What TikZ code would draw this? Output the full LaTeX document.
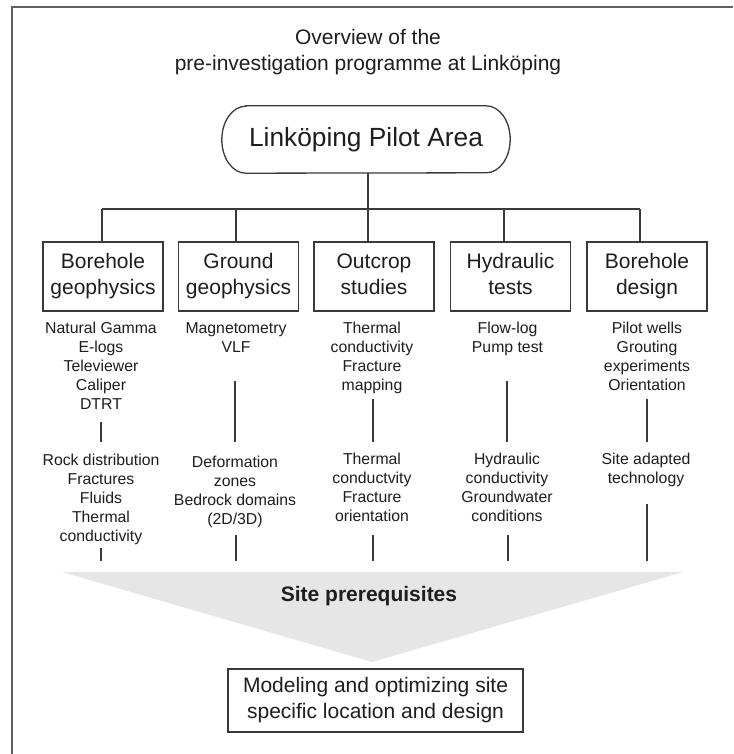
\documentclass[tikz,border=0pt]{standalone}
\usepackage{fontspec}
\setmainfont{Liberation Sans}
\definecolor{txt}{HTML}{1E1E1E}
\definecolor{lin}{HTML}{3A3A3A}
\definecolor{frm}{HTML}{606060}
\definecolor{tri}{HTML}{E6E6E6}
\newcommand{\lnst}{\strut}
\begin{document}
\begin{tikzpicture}[x=1pt,y=-1pt,
  big/.style={font=\fontsize{21}{26}\selectfont, text=txt, align=center, inner sep=0pt},
  small/.style={font=\fontsize{15.8}{19}\selectfont, text=txt, align=center, inner sep=0pt},
  catbox/.style={big, draw=lin, line width=1.3pt, minimum width=120pt, minimum height=69pt},
  conn/.style={draw=lin, line width=1.2pt}]
\useasboundingbox (0,0) rectangle (733,754);
\fill[white] (0,0) rectangle (733,754);
% frame
\draw[frm, line width=1.6pt] (12,754) -- (12,7) -- (733,7);
% title
\node[big] (title) at (368,52) {\strut Overview of the\\\strut pre-investigation programme at Linköping};
% pilot area
\node[inner sep=0pt, minimum width=288pt, minimum height=67pt, font=\fontsize{26.3}{30}\selectfont, text=txt] (pilot) at (366,139.5) {Linköping Pilot Area};
\draw[lin, line width=1.3pt] ([xshift=24pt]pilot.north west) -- ([xshift=-24pt]pilot.north east)
  arc[start angle=90, end angle=-90, x radius=24pt, y radius=33.5pt]
  -- ([xshift=24pt]pilot.south west)
  arc[start angle=270, end angle=90, x radius=24pt, y radius=33.5pt] -- cycle;
% category boxes
\node[catbox] (b1) at (103,276.5) {\strut Borehole\\\strut geophysics};
\node[catbox] (b2) at (238.5,276.5) {\strut Ground\\\strut geophysics};
\node[catbox] (b3) at (374,276.5) {\strut Outcrop\\\strut studies};
\node[catbox] (b4) at (510.5,276.5) {\strut Hydraulic\\\strut tests};
\node[catbox] (b5) at (647,276.5) {\strut Borehole\\\strut design};
% tree connectors
\coordinate (bar) at (368,209);
\coordinate (j1) at (102,209);
\coordinate (j2) at (236,209);
\coordinate (j3) at (368,209);
\coordinate (j4) at (504,209);
\coordinate (j5) at (640,209);
\draw[conn] (pilot.south -| bar) -- (bar);
\draw[conn] (j1) -- (j5);
\draw[conn] (j1) -- (j1 |- b1.north);
\draw[conn] (j2) -- (j2 |- b2.north);
\draw[conn] (j3) -- (j3 |- b3.north);
\draw[conn] (j4) -- (j4 |- b4.north);
\draw[conn] (j5) -- (j5 |- b5.north);
% methods
\node[small] (m1) at (101,368) {\lnst Natural Gamma\\\lnst E-logs\\\lnst Televiewer\\\lnst Caliper\\\lnst DTRT};
\node[small] (m2) at (236,339.5) {\lnst Magnetometry\\\lnst VLF};
\node[small] (m3) at (372,358.5) {\lnst Thermal\\\lnst conductivity\\\lnst Fracture\\\lnst mapping};
\node[small] (m4) at (507.5,339.5) {\lnst Flow-log\\\lnst Pump test};
\node[small] (m5) at (647,358.5) {\lnst Pilot wells\\\lnst Grouting\\\lnst experiments\\\lnst Orientation};
% results
\node[small] (r1) at (101,499.5) {\lnst Rock distribution\\\lnst Fractures\\\lnst Fluids\\\lnst Thermal\\\lnst conductivity};
\node[small] (r2) at (235,492) {\lnst Deformation\\\lnst zones\\\lnst Bedrock domains\\\lnst (2D/3D)};
\node[small] (r3) at (372,489.5) {\lnst Thermal\\\lnst conductvity\\\lnst Fracture\\\lnst orientation};
\node[small] (r4) at (507,489.5) {\lnst Hydraulic\\\lnst conductivity\\\lnst Groundwater\\\lnst conditions};
\node[small] (r5) at (646,470.5) {\lnst Site adapted\\\lnst technology};
% method -> result connectors
\coordinate (u1a) at (101,422); \coordinate (u1b) at (101,442);
\coordinate (u2a) at (235,381); \coordinate (u2b) at (235,442);
\coordinate (u3a) at (373,399); \coordinate (u3b) at (373,442);
\coordinate (u4a) at (507,381); \coordinate (u4b) at (507,442);
\coordinate (u5a) at (647,399); \coordinate (u5b) at (647,442);
\foreach \i in {1,...,5}{\draw[conn] (u\i a) -- (u\i b);}
% result -> prerequisites connectors
\coordinate (l1a) at (101,548); \coordinate (l1b) at (101,561);
\coordinate (l2a) at (236,535); \coordinate (l2b) at (236,561);
\coordinate (l3a) at (373,535); \coordinate (l3b) at (373,561);
\coordinate (l4a) at (508,535); \coordinate (l4b) at (508,561);
\coordinate (l5a) at (647,504); \coordinate (l5b) at (647,561);
\foreach \i in {1,...,5}{\draw[conn] (l\i a) -- (l\i b);}
% funnel
\fill[tri] (62,572) -- (683,572) -- (372,662) -- cycle;
\node[big, font=\fontsize{21}{26}\selectfont\bfseries] (pre) at (369,596) {Site prerequisites};
% final box
\node[big, draw=lin, line width=1.3pt, minimum width=295pt, minimum height=63pt] (final) at (375.5,700.5) {\strut Modeling and optimizing site\\\strut specific location and design};
\end{tikzpicture}
\end{document}
